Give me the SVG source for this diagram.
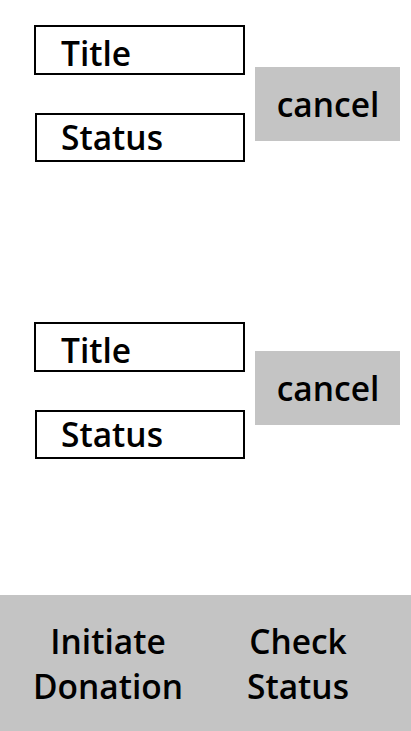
<svg xmlns="http://www.w3.org/2000/svg" width="411" height="731" viewBox="0 0 411 731">
<style>
.field{fill:#fff;stroke:#000;stroke-width:2}
.btn{fill:#c4c4c4}
text{font-family:"Open Sans","Noto Sans",sans-serif;font-weight:600;font-size:33.5px;fill:#000}
.c{text-anchor:middle}
</style>
<rect width="411" height="731" fill="#fff"/>
<g id="card1">
<g id="title1"><rect class="field" x="35" y="26" width="209" height="48"/><text x="61" y="66">Title</text></g>
<g id="status1"><rect class="field" x="36" y="114" width="208" height="47"/><text x="61" y="150">Status</text></g>
<g id="cancel1"><rect class="btn" x="255" y="67" width="145" height="74"/><text class="c" x="328" y="117">cancel</text></g>
</g>
<g id="card2">
<g id="title2"><rect class="field" x="35" y="323" width="209" height="48"/><text x="61" y="363">Title</text></g>
<g id="status2"><rect class="field" x="36" y="411" width="208" height="47"/><text x="61" y="447">Status</text></g>
<g id="cancel2"><rect class="btn" x="255" y="351" width="145" height="74"/><text class="c" x="328" y="401">cancel</text></g>
</g>
<g id="navbar">
<rect class="btn" x="0" y="595" width="411" height="136"/>
<g id="initiate"><text class="c" x="108" y="654">Initiate</text><text class="c" x="108" y="699">Donation</text></g>
<g id="check"><text class="c" x="298" y="654">Check</text><text class="c" x="298" y="699">Status</text></g>
</g>
<g id="connectors"/>
</svg>
